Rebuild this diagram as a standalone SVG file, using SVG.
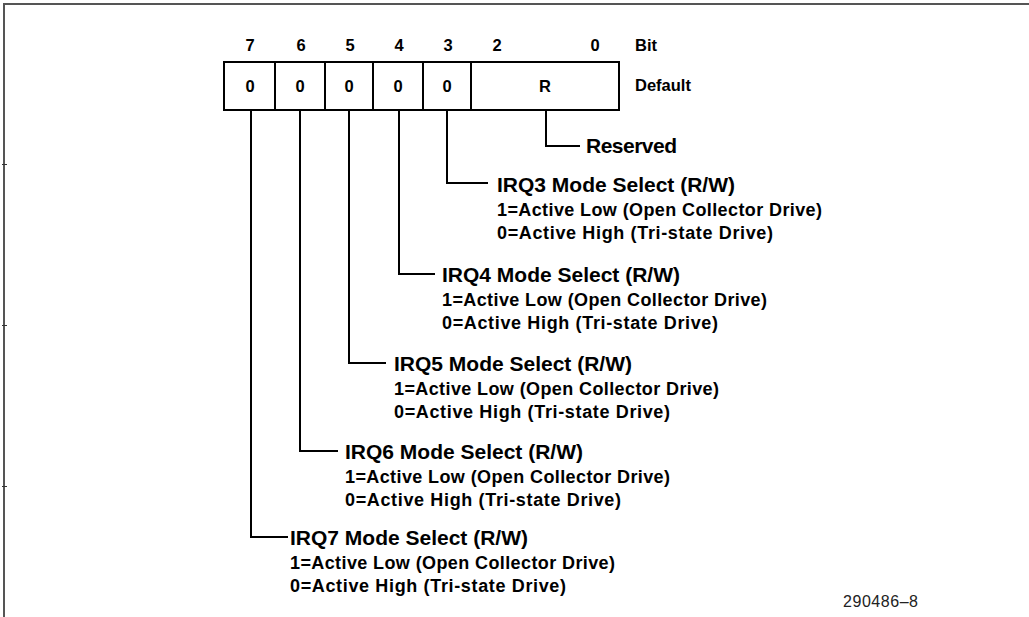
<svg xmlns="http://www.w3.org/2000/svg" width="1029" height="617" viewBox="0 0 1029 617">
<style>
.t{font-family:"Liberation Sans",Arial,sans-serif;font-weight:bold;fill:#000}
.h{font-size:16.5px}
.ttl{font-size:21px}
.sub{font-size:18px}
.ln{fill:none;stroke:#000;stroke-width:2}
.frm{fill:none;stroke:#555;stroke-width:2}
</style>
<rect width="1029" height="617" fill="#fff"/>
<g id="frame">
<path class="frm" d="M4,617 V4 H1029"/>
<path stroke="#333" stroke-width="1" d="M2,164.5 H7 M2,325.5 H7 M2,486.5 H7"/>
</g>
<g id="register">
<rect class="ln" x="224" y="62" width="395" height="48"/>
<path class="ln" d="M275,62 V110 M325,62 V110 M373,62 V110 M423,62 V110 M471,62 V110"/>
<g class="t h" text-anchor="middle">
<text x="250" y="51">7</text><text x="301" y="51">6</text><text x="350" y="51">5</text><text x="399" y="51">4</text><text x="448" y="51">3</text><text x="497" y="51">2</text><text x="595" y="51">0</text>
<text x="250" y="92">0</text><text x="300" y="92">0</text><text x="349" y="92">0</text><text x="398" y="92">0</text><text x="447" y="92">0</text><text x="545" y="92">R</text>
</g>
<text class="t h" x="635" y="51">Bit</text>
<text class="t h" x="635" y="91">Default</text>
</g>
<g id="connectors">
<path class="ln" d="M546,110 V146 H580"/>
<path class="ln" d="M447,110 V183 H488"/>
<path class="ln" d="M399,110 V274 H435"/>
<path class="ln" d="M349,110 V363 H386"/>
<path class="ln" d="M300,110 V451 H338"/>
<path class="ln" d="M251,110 V537 H288"/>
</g>
<g id="reserved"><text class="t ttl" x="586" y="153" textLength="91">Reserved</text></g>
<g id="irq3">
<text class="t ttl" x="497" y="192" textLength="238">IRQ3 Mode Select (R/W)</text>
<text class="t sub" x="497" y="216" textLength="325">1=Active Low (Open Collector Drive)</text>
<text class="t sub" x="497" y="239" textLength="276">0=Active High (Tri-state Drive)</text>
</g>
<g id="irq4">
<text class="t ttl" x="442" y="282" textLength="238">IRQ4 Mode Select (R/W)</text>
<text class="t sub" x="442" y="306" textLength="325">1=Active Low (Open Collector Drive)</text>
<text class="t sub" x="442" y="329" textLength="276">0=Active High (Tri-state Drive)</text>
</g>
<g id="irq5">
<text class="t ttl" x="394" y="371" textLength="238">IRQ5 Mode Select (R/W)</text>
<text class="t sub" x="394" y="395" textLength="325">1=Active Low (Open Collector Drive)</text>
<text class="t sub" x="394" y="418" textLength="276">0=Active High (Tri-state Drive)</text>
</g>
<g id="irq6">
<text class="t ttl" x="345" y="459" textLength="238">IRQ6 Mode Select (R/W)</text>
<text class="t sub" x="345" y="483" textLength="325">1=Active Low (Open Collector Drive)</text>
<text class="t sub" x="345" y="506" textLength="276">0=Active High (Tri-state Drive)</text>
</g>
<g id="irq7">
<text class="t ttl" x="290" y="545" textLength="238">IRQ7 Mode Select (R/W)</text>
<text class="t sub" x="290" y="569" textLength="325">1=Active Low (Open Collector Drive)</text>
<text class="t sub" x="290" y="592" textLength="276">0=Active High (Tri-state Drive)</text>
</g>
<g id="figure-id"><text x="843" y="607" font-family="Liberation Sans,Arial,sans-serif" font-size="16" fill="#222" textLength="75">290486–8</text></g>
</svg>
